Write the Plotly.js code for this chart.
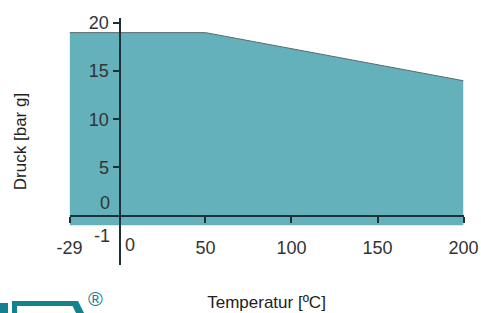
<!DOCTYPE html>
<html>
<head>
<meta charset="utf-8">
<script src="https://cdn.plot.ly/plotly-3.0.1.min.js"></script>
<style>html,body{margin:0;padding:0;background:#fff;}#chart{width:481px;height:313px;}</style>
</head>
<body>
<div id="chart"></div>
<script>
// Data
var temperature = [-29, 50, 200];          // °C
var maxPressure = [19, 19, 14];            // bar g (upper limit)
var minPressure = [-1, -1, -1];            // bar g (lower limit)
var xTickVals = [-29, 50, 100, 150, 200];
var xTickText = ['-29', '50', '100', '150', '200'];
var xZeroLabel = '0';
var yTickVals = [5, 10, 15, 20];
var yTickText = ['5', '10', '15', '20'];
var yExtraLabels = [{v: 0, t: '0'}, {v: -1, t: '-1'}];

var W = 481, H = 313;
function px(p) { return p / W; }
function py(p) { return (H - p) / H; }

var fillColor = '#64b1bb';
var axisColor = '#1c3038';
var logoColor = '#14818f';

var traces = [
  {x: temperature, y: minPressure, mode: 'lines', line: {width: 0, color: fillColor}, hoverinfo: 'skip', showlegend: false},
  {x: temperature, y: maxPressure, mode: 'lines', fill: 'tonexty', fillcolor: fillColor,
   line: {width: 1, color: '#56686c'}, hoverinfo: 'skip', showlegend: false}
];

var annotations = yExtraLabels.map(function (d, i) {
  return {x: 0, y: d.v, xref: 'x', yref: 'y', text: d.t, showarrow: false,
          xanchor: 'right', yanchor: 'middle', xshift: -7, yshift: i === 0 ? 13 : -11,
          font: {size: 18, color: '#333'}};
});
annotations.push({x: 0, y: 0, xref: 'x', yref: 'y', text: xZeroLabel, showarrow: false,
                  xanchor: 'center', yanchor: 'middle', xshift: 11, yshift: -29.5,
                  font: {size: 18, color: '#333'}});
annotations.push({x: px(95), y: py(312), xref: 'paper', yref: 'paper', text: '®', showarrow: false,
                  xanchor: 'center', yanchor: 'bottom', font: {size: 20, color: logoColor}});

var shapes = [
  {type: 'rect', xref: 'paper', yref: 'paper', x0: px(0), x1: px(8), y0: py(313), y1: py(303), fillcolor: logoColor, line: {width: 0}},
  {type: 'rect', xref: 'paper', yref: 'paper', x0: px(12), x1: px(17), y0: py(313), y1: py(301), fillcolor: logoColor, line: {width: 0}},
  {type: 'rect', xref: 'paper', yref: 'paper', x0: px(12), x1: px(74), y0: py(306), y1: py(301), fillcolor: logoColor, line: {width: 0}},
  {type: 'path', xref: 'paper', yref: 'paper',
   path: 'M ' + px(70) + ' ' + py(301) + ' L ' + px(78) + ' ' + py(301) + ' L ' + px(84) + ' ' + py(313) + ' L ' + px(76) + ' ' + py(313) + ' Z',
   fillcolor: logoColor, line: {width: 0}}
];

var layout = {
  width: W, height: H,
  margin: {l: 0, r: 0, t: 0, b: 0, pad: 0},
  paper_bgcolor: '#fff', plot_bgcolor: 'rgba(0,0,0,0)',
  font: {family: 'Liberation Sans, Arial, sans-serif', color: '#333'},
  showlegend: false, hovermode: false,
  xaxis: {
    range: [-29, 200], domain: [px(69.6), px(463.5)],
    anchor: 'free', position: py(215.5),
    showline: true, linecolor: axisColor, linewidth: 2,
    ticks: 'outside', ticklen: 6, tickwidth: 2, tickcolor: axisColor,
    tickvals: xTickVals, ticktext: xTickText, ticklabelstandoff: 10,
    showgrid: false, zeroline: false, automargin: false,
    tickfont: {size: 18, color: '#333'},
    title: {text: 'Temperatur [ºC]', font: {size: 17, color: '#222'}, standoff: 38}
  },
  yaxis: {
    range: [-5.14, 20.52], domain: [py(265), py(18)],
    anchor: 'free', position: px(119.5),
    showline: true, linecolor: axisColor, linewidth: 2,
    ticks: 'outside', ticklen: 6, tickwidth: 2, tickcolor: axisColor,
    tickvals: yTickVals, ticktext: yTickText,
    showgrid: false, zeroline: false, automargin: false,
    tickfont: {size: 18, color: '#333'},
    title: {text: 'Druck [bar g]', font: {size: 17, color: '#222'}, standoff: 57}
  },
  annotations: annotations,
  shapes: shapes
};

Plotly.newPlot('chart', traces, layout, {displayModeBar: false, staticPlot: true});
</script>
</body>
</html>
